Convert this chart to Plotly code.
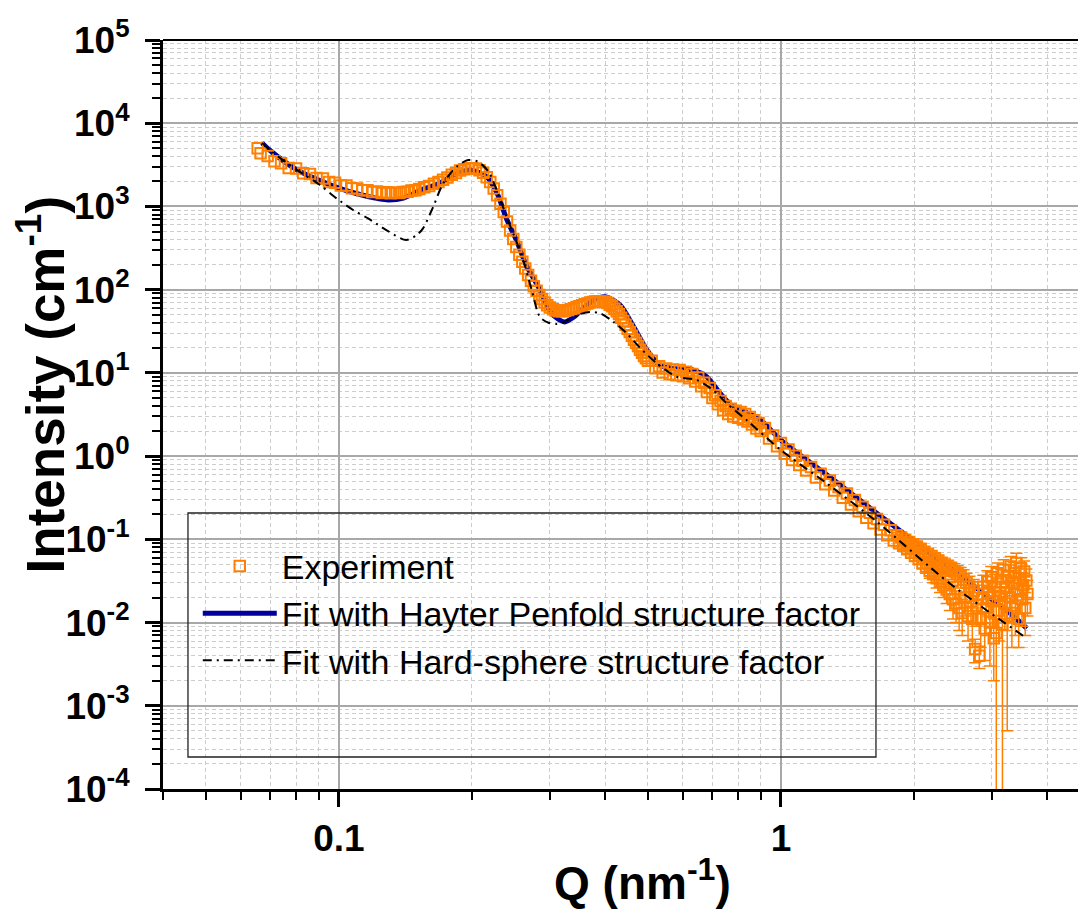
import plotly.graph_objects as go

# ---------------- measured SAXS curve (Q in nm^-1, I in cm^-1) ----------------
q_exp = [
    0.0655, 0.0665, 0.0690, 0.0715, 0.0740, 0.0770, 0.0800, 0.0830, 0.0860, 0.0890,
    0.0920, 0.0950, 0.0980, 0.1010, 0.1040, 0.1070, 0.1100, 0.1130, 0.1160, 0.1190,
    0.1220, 0.1250, 0.1280, 0.1310, 0.1340, 0.1370, 0.1400, 0.1430, 0.1460, 0.1490,
    0.152, 0.156, 0.160, 0.164, 0.168, 0.172, 0.176, 0.180, 0.184, 0.188,
    0.192, 0.196, 0.200, 0.204, 0.208, 0.212, 0.216, 0.220, 0.224, 0.228,
    0.232, 0.236, 0.240, 0.244, 0.248, 0.252, 0.256, 0.260, 0.264, 0.268,
    0.272, 0.276, 0.280, 0.284, 0.288, 0.292, 0.296, 0.300,
    0.305, 0.310, 0.315, 0.320, 0.325, 0.330, 0.335, 0.340, 0.345, 0.350,
    0.355, 0.360, 0.365, 0.370, 0.375, 0.380, 0.385, 0.390, 0.395, 0.400,
    0.405, 0.410, 0.415, 0.420, 0.425, 0.430, 0.435, 0.440, 0.445, 0.450,
    0.455, 0.460, 0.465, 0.470, 0.475, 0.480, 0.485, 0.490, 0.495, 0.500,
    0.51, 0.52, 0.53, 0.54, 0.55, 0.56, 0.57, 0.58, 0.59, 0.60,
    0.61, 0.62, 0.63, 0.64, 0.65, 0.66, 0.67, 0.68, 0.69, 0.70,
    0.71, 0.72, 0.73, 0.74, 0.75, 0.76, 0.77, 0.78, 0.79, 0.80,
    0.81, 0.82, 0.83, 0.84, 0.85, 0.86, 0.87, 0.88, 0.89, 0.90,
    0.92, 0.94, 0.96, 0.98, 1.00, 1.02, 1.04, 1.06, 1.08, 1.10,
    1.12, 1.14, 1.17, 1.20, 1.23, 1.26, 1.29, 1.32, 1.35, 1.38,
    1.41, 1.44, 1.47, 1.50, 1.53, 1.56, 1.59, 1.62, 1.65, 1.68,
    1.71, 1.74, 1.77, 1.80,
]
i_exp = [
    5000, 4350, 4050, 3500, 3300, 2900, 2850, 2500, 2450, 2200,
    2160, 1960, 1930, 1790, 1780, 1660, 1640, 1560, 1570, 1490,
    1510, 1450, 1480, 1440, 1470, 1450, 1490, 1500, 1550, 1570,
    1620, 1700, 1760, 1870, 1960, 2100, 2220, 2400, 2530, 2700,
    2790, 2880, 2880, 2860, 2720, 2540, 2250, 1960, 1640, 1360,
    1080, 860, 660, 515, 405, 325, 262, 216, 180, 150,
    128, 110, 97, 86, 77, 70, 65, 61,
    58, 56, 55, 55, 56, 57, 58, 60, 62, 63,
    65, 67, 68, 70, 71, 72, 72, 72, 72, 71,
    69, 66, 63, 59, 55, 51, 46, 42, 38, 34,
    31, 28, 25, 23, 21, 19, 17.5, 16, 15, 14,
    14.0, 11.4, 12.0, 10.1, 11.3, 9.6, 11.0, 9.4, 10.8, 9.1,
    10.3, 8.6, 9.7, 7.9, 8.8, 6.9, 7.6, 5.9, 6.6, 5.0,
    5.4, 4.2, 4.6, 3.55, 4.0, 3.2, 3.7, 3.0, 3.5, 2.9,
    3.4, 2.75, 3.2, 2.6, 2.95, 2.4, 2.7, 2.15, 2.5, 2.0,
    2.17, 1.63, 1.77, 1.31, 1.44, 1.07, 1.20, 0.90, 1.01, 0.78,
    0.88, 0.67, 0.74, 0.555, 0.615, 0.46, 0.51, 0.385, 0.425, 0.315,
    0.355, 0.263, 0.297, 0.218, 0.246, 0.182, 0.208, 0.156, 0.175, 0.131,
    0.150, 0.112, 0.129, 0.097,
]

# noisy high-Q tail, plotted with its error bars
q_tail = [
    1.83, 1.85, 1.87, 1.89, 1.91, 1.93, 1.95, 1.97, 1.99, 2.01,
    2.03, 2.05, 2.07, 2.09, 2.11, 2.13, 2.15, 2.17, 2.19, 2.21,
    2.23, 2.25, 2.27, 2.29, 2.31, 2.33, 2.35, 2.37, 2.39, 2.41,
    2.43, 2.45, 2.47, 2.49, 2.51, 2.53, 2.55, 2.57, 2.59, 2.61,
    2.63, 2.65, 2.67, 2.69, 2.71, 2.73, 2.75, 2.77, 2.79, 2.81,
    2.83, 2.85, 2.87, 2.89, 2.91, 2.93, 2.95, 2.97, 2.99, 3.01,
    3.03, 3.05, 3.07, 3.09, 3.11, 3.13, 3.15, 3.17, 3.19, 3.21,
    3.23, 3.25, 3.27, 3.29, 3.31, 3.33, 3.35, 3.37, 3.39, 3.41,
    3.43, 3.45, 3.47, 3.49, 3.51, 3.53, 3.55, 3.57, 3.59, 3.61,
]
i_tail = [
    0.112, 0.090, 0.105, 0.084, 0.099, 0.076, 0.093, 0.069, 0.087, 0.063,
    0.082, 0.058, 0.077, 0.052, 0.071, 0.047, 0.067, 0.042, 0.063, 0.038,
    0.059, 0.034, 0.055, 0.031, 0.051, 0.028, 0.048, 0.025, 0.046, 0.022,
    0.043, 0.019, 0.041, 0.017, 0.038, 0.015, 0.036, 0.013, 0.033, 0.020,
    0.030, 0.012, 0.027, 0.018, 0.011, 0.024, 0.0048, 0.016, 0.022, 0.0040,
    0.011, 0.019, 0.027, 0.0085, 0.015, 0.031, 0.022, 0.010, 0.035, 0.018,
    0.0065, 0.027, 0.0075, 0.039, 0.014, 0.021, 0.031, 0.0095, 0.043, 0.017,
    0.026, 0.012, 0.036, 0.020, 0.047, 0.013, 0.030, 0.039, 0.016, 0.052,
    0.024, 0.011, 0.034, 0.045, 0.019, 0.028, 0.041, 0.015, 0.032, 0.022,
]
err_tail = [
    0.008, 0.008, 0.009, 0.008, 0.009, 0.008, 0.009, 0.008, 0.009, 0.008,
    0.009, 0.008, 0.009, 0.008, 0.010, 0.008, 0.010, 0.008, 0.010, 0.008,
    0.010, 0.008, 0.010, 0.008, 0.010, 0.008, 0.010, 0.008, 0.010, 0.008,
    0.010, 0.008, 0.010, 0.007, 0.010, 0.007, 0.010, 0.006, 0.010, 0.008,
    0.009, 0.006, 0.009, 0.008, 0.006, 0.009, 0.0015, 0.007, 0.009, 0.0012,
    0.006, 0.009, 0.010, 0.005, 0.008, 0.011, 0.010, 0.007, 0.012, 0.009,
    0.0045, 0.011, 0.009, 0.013, 0.008, 0.010, 0.012, 0.011, 0.014, 0.009,
    0.011, 0.0115, 0.013, 0.010, 0.015, 0.008, 0.012, 0.014, 0.009, 0.016,
    0.011, 0.006, 0.013, 0.015, 0.010, 0.011, 0.014, 0.008, 0.012, 0.010,
]

# ---------------- model fits ----------------
q_hp = [0.067, 0.070, 0.080, 0.090, 0.100, 0.110, 0.120, 0.128, 0.140, 0.153,
        0.169, 0.182, 0.198, 0.216, 0.228, 0.240, 0.252, 0.265, 0.285, 0.300,
        0.312, 0.324, 0.340, 0.360, 0.380, 0.400, 0.433, 0.464, 0.497, 0.532,
        0.570, 0.634, 0.679, 0.728, 0.780, 0.840, 0.900, 1.00, 1.29, 1.65,
        2.50, 3.30, 3.60]
i_hp = [5800, 4670, 2790, 2076, 1660, 1420, 1270, 1200, 1260, 1575,
        1897, 2385, 2737, 2275, 1436, 687, 395, 200, 99, 55,
        45, 41, 47, 62, 77, 82, 65, 36, 19, 12.4,
        11.3, 10.8, 9.0, 5.7, 3.9, 3.3, 2.7, 1.56, 0.56, 0.205,
        0.039, 0.0129, 0.0085]

q_hs = [0.067, 0.070, 0.080, 0.0906, 0.0988, 0.1077, 0.1164, 0.128, 0.142, 0.150,
        0.155, 0.1634, 0.1722, 0.1846, 0.196, 0.2065, 0.218, 0.2275, 0.2395, 0.252,
        0.261, 0.273, 0.285, 0.298, 0.311, 0.330, 0.350, 0.370, 0.390, 0.418,
        0.448, 0.480, 0.524, 0.581, 0.645, 0.700, 0.754, 0.836, 1.00, 1.27,
        1.65, 2.41, 3.60]
i_hs = [5800, 4670, 2790, 1808, 1250, 906, 719, 520, 395, 453,
        546, 990, 1897, 3000, 3612, 3443, 2612, 1575, 751, 380,
        230, 99, 47, 40, 38.6, 43, 50.5, 54, 52, 41,
        29.9, 20, 13, 9.0, 8.2, 6.3, 4.3, 2.71, 1.18, 0.47,
        0.162, 0.0295, 0.00646]

# ---------------- axis ticks ----------------
y_tick_vals = [1e-4, 1e-3, 1e-2, 1e-1, 1e0, 1e1, 1e2, 1e3, 1e4, 1e5]
y_tick_text = ["<b>10<sup>-4</sup></b>", "<b>10<sup>-3</sup></b>", "<b>10<sup>-2</sup></b>",
               "<b>10<sup>-1</sup></b>", "<b>10<sup>0</sup></b>", "<b>10<sup>1</sup></b>",
               "<b>10<sup>2</sup></b>", "<b>10<sup>3</sup></b>", "<b>10<sup>4</sup></b>",
               "<b>10<sup>5</sup></b>"]
x_tick_vals = [0.1, 1]
x_tick_text = ["<b>0.1</b>", "<b>1</b>"]

y_minor = [m * 10.0 ** e for e in range(-4, 5) for m in range(2, 10)]
x_minor = [m * 10.0 ** e for e in range(-2, 1) for m in range(2, 10) if 0.04 <= m * 10.0 ** e <= 4.7]

ORANGE = "rgb(255,128,0)"
NAVY = "#00009C"
FONT = "Liberation Sans"

fig = go.Figure()

fig.add_trace(go.Scatter(
    x=q_hp, y=i_hp, mode="lines", name="Fit with Hayter Penfold structure factor",
    line=dict(color=NAVY, width=5, shape="spline", smoothing=0.8), legendrank=2,
))
fig.add_trace(go.Scatter(
    x=q_exp, y=i_exp, mode="markers", name="Experiment", legendgroup="exp", legendrank=1,
    marker=dict(symbol="square-open", size=10.5, color=ORANGE, line=dict(width=2, color=ORANGE)),
))
fig.add_trace(go.Scatter(
    x=q_tail, y=i_tail, mode="markers", name="Experiment", legendgroup="exp", showlegend=False,
    marker=dict(symbol="square-open", size=10.5, color=ORANGE, line=dict(width=2, color=ORANGE)),
    error_y=dict(type="data", array=err_tail, visible=True, color=ORANGE, thickness=1.5, width=6),
))
fig.add_trace(go.Scatter(
    x=q_hs, y=i_hs, mode="lines", name="Fit with Hard-sphere structure factor",
    line=dict(color="black", width=2, dash="9px,5px,2px,5px", shape="spline", smoothing=0.8),
    legendrank=3,
))

axis_common = dict(
    type="log", showline=True, linecolor="black", linewidth=3,
    ticks="outside", ticklen=15, tickwidth=2.5, tickcolor="black",
    showgrid=True, gridcolor="#a8a8a8", gridwidth=1.5, zeroline=False,
    tickfont=dict(family=FONT, size=37, color="black"),
)

fig.update_xaxes(
    **axis_common, range=[-1.39794, 0.672], tickmode="array",
    tickvals=x_tick_vals, ticktext=x_tick_text, ticklabelstandoff=0,
    minor=dict(tickmode="array", tickvals=x_minor, ticks="outside", ticklen=8, tickwidth=2,
               tickcolor="black", showgrid=True, gridcolor="#cdcdcd", griddash="4px,3px", gridwidth=1),
)
fig.update_yaxes(
    **axis_common, range=[-4, 5], tickmode="array",
    tickvals=y_tick_vals, ticktext=y_tick_text, ticklabelstandoff=8,
    minor=dict(tickmode="array", tickvals=y_minor, ticks="outside", ticklen=8, tickwidth=2,
               tickcolor="black", showgrid=True, gridcolor="#cdcdcd", griddash="4px,3px", gridwidth=1),
)

fig.update_layout(
    width=1078, height=911,
    margin=dict(l=163, r=0, t=40, b=122),
    paper_bgcolor="white", plot_bgcolor="white",
    font=dict(family=FONT, color="black"),
    legend=dict(
        x=0.038, y=0.336, xanchor="left", yanchor="top",
        bgcolor="rgba(0,0,0,0)", borderwidth=0,
        font=dict(family=FONT, size=34, color="black"),
        itemwidth=74, tracegroupgap=0,
    ),
    shapes=[
        dict(type="line", xref="paper", yref="paper", x0=0, x1=1, y0=1, y1=1,
             line=dict(color="black", width=2)),
        dict(type="rect", xref="paper", yref="paper", x0=0.0273, x1=0.7792, y0=0.0427, y1=0.3685,
             line=dict(color="#222222", width=1.3), fillcolor="rgba(0,0,0,0)"),
    ],
    annotations=[
        dict(text="<b>Intensity (cm<sup>-1</sup>)</b>", xref="paper", yref="paper",
             x=-0.134, y=0.5407, xanchor="center", yanchor="middle", textangle=-90,
             showarrow=False, font=dict(family=FONT, size=53, color="black")),
        dict(text="<b>Q (nm<sup>-1</sup>)</b>", xref="paper", yref="paper",
             x=0.5235, y=-0.1215, xanchor="center", yanchor="middle",
             showarrow=False, font=dict(family=FONT, size=46, color="black")),
    ],
)

fig.write_html("out.html")
